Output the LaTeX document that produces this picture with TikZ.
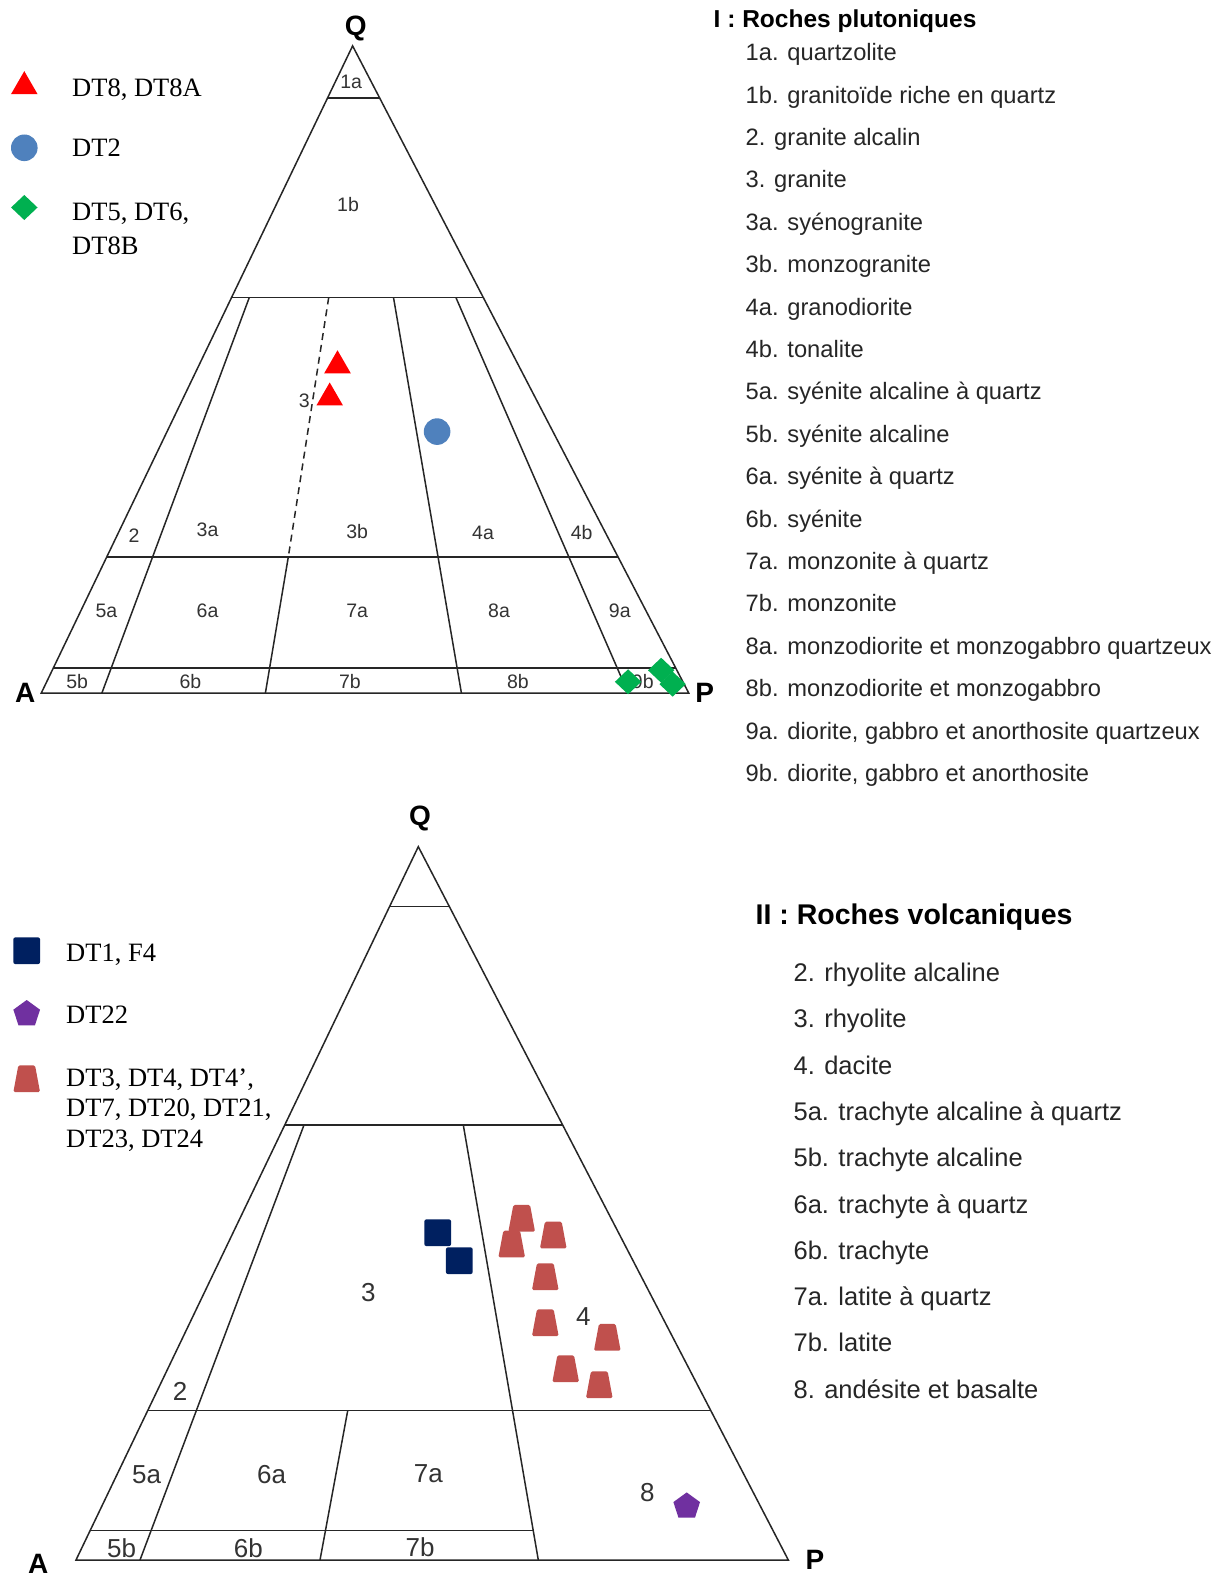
\documentclass[tikz,border=0pt]{standalone}
\usepackage{fontspec}
\setmainfont{Liberation Sans}
\newfontfamily\legendfont{Liberation Serif}
\usetikzlibrary{shapes.geometric}

\definecolor{mkred}{HTML}{FF0000}
\definecolor{mkblue}{HTML}{4F81BD}
\definecolor{mkgreen}{HTML}{00B050}
\definecolor{mknavy}{HTML}{002060}
\definecolor{mkpurple}{HTML}{7030A0}
\definecolor{mkbrick}{HTML}{C0504D}
\definecolor{txtgray}{HTML}{333333}

\tikzset{
  field/.style={line width=1.5pt, black!85},
  lab/.style={text=txtgray, inner sep=0pt, font=\fontsize{19.5}{20}\selectfont},
  biglab/.style={text=txtgray, inner sep=0pt, font=\fontsize{26}{27}\selectfont},
  apex/.style={inner sep=0pt, font=\bfseries\fontsize{28}{28}\selectfont},
  item/.style={anchor=base west, inner sep=0pt, text=black!85, font=\fontsize{23.7}{24}\selectfont},
  vitem/.style={item, font=\fontsize{25.5}{26}\selectfont},
  legtext/.style={anchor=base west, inner sep=0pt, font=\legendfont\fontsize{26.5}{30}\selectfont},
  tri/.style={regular polygon, regular polygon sides=3, minimum size=30.7pt, inner sep=0pt, fill=mkred},
  dot/.style={circle, minimum size=26.6pt, inner sep=0pt, fill=mkblue},
  rhomb/.style={diamond, minimum width=26.6pt, minimum height=25.2pt, inner sep=0pt, fill=mkgreen},
  sqr/.style={rectangle, minimum size=26.7pt, inner sep=0pt, rounded corners=2pt, fill=mknavy},
  penta/.style={regular polygon, regular polygon sides=5, minimum size=28pt, inner sep=0pt, fill=mkpurple},
  trapmark/.pic={\fill[mkbrick, rounded corners=1.5pt] (-13.35,13.35) -- (-8.35,-13.35) -- (8.35,-13.35) -- (13.35,13.35) -- cycle;}
}

\begin{document}
\begin{tikzpicture}[x=1pt,y=-1pt]
	\path[fill=white,use as bounding box] (0,0) rectangle (1228,1578);

	% I : plutonic QAP triangle
	\coordinate (Q1) at (352.6,45.9);
	\coordinate (A1) at (41.3,693);
	\coordinate (P1) at (688.7,693);
	\draw[field] (A1) -- (Q1) -- (P1) -- cycle;
	\draw[field] (327.7,97.8) -- (379.5,97.8);
	\draw[field] (231.6,297.5) -- (483.3,297.5);
	\draw[field] (106.7,557) -- (618.1,557);
	\draw[field] (53.3,668) -- (675.7,668);
	\draw[field] (249.3,297.5) -- (101.9,693);
	\draw[field,dashed,dash pattern=on 7pt off 5pt] (328.7,297.5) -- (288.3,557);
	\draw[field] (288.3,557) -- (265.4,693);
	\draw[field] (393.5,297.5) -- (461.4,693);
	\draw[field] (455.9,297.5) -- (628.1,693);

	\node[apex] (q1) at (355.8,28.5) {Q};
	\node[apex] (a1) at (25.3,692.4) {A};
	\node[apex] (p1) at (704.8,692.4) {P};

	\node[lab] at (351.2,81.7) {1a};
	\node[lab] at (348,205) {1b};
	\node[lab] at (304.4,400.8) {3};
	\node[lab] at (134,536) {2};
	\node[lab] at (207.5,530) {3a};
	\node[lab] at (357.2,531.7) {3b};
	\node[lab] at (483,532.6) {4a};
	\node[lab] at (581.7,532.6) {4b};
	\node[lab] at (106.5,610.6) {5a};
	\node[lab] at (207.5,610.6) {6a};
	\node[lab] at (357.2,610.6) {7a};
	\node[lab] at (499,610.6) {8a};
	\node[lab] at (619.8,610.6) {9a};
	\node[lab] at (77.1,681.8) {5b};
	\node[lab] at (190.5,681.8) {6b};
	\node[lab] at (349.9,681.8) {7b};
	\node[lab] at (517.9,681.8) {8b};
	\node[lab] at (642.8,681.8) {9b};

	% samples, plutonic
	\node[tri] (dt8) at (337.5,365.6) {};
	\node[tri] (dt8a) at (329.7,397.8) {};
	\node[dot] (dt2) at (437.1,431.6) {};
	\node[rhomb] (dt5) at (628.1,681.8) {};
	\node[rhomb] (dt6) at (661.2,670.3) {};
	\node[rhomb] (dt8b) at (672.6,684.1) {};

	\node[tri] (leg1) at (24.3,86.5) {};
	\node[dot] (leg2) at (24.3,147.8) {};
	\node[rhomb] (leg3) at (24.3,207.5) {};
	\node[legtext] (legt1) at (72,96.4) {DT8, DT8A};
	\node[legtext] (legt2) at (72,157) {DT2};
	\node[legtext] (legt3) at (72,220.4) {DT5, DT6,};
	\node[legtext] (legt3b) at (72,254.8) {DT8B};

	\node[anchor=base west, inner sep=0pt, font=\bfseries\fontsize{24.5}{25}\selectfont] (titre1) at (713.5,27.3) {I : Roches plutoniques};
	\foreach \txt [count=\i from 0] in {1a. quartzolite, 1b. granitoïde riche en quartz, 2. granite alcalin, 3. granite, 3a. syénogranite, 3b. monzogranite, 4a. granodiorite, 4b. tonalite, 5a. syénite alcaline à quartz, 5b. syénite alcaline, 6a. syénite à quartz, 6b. syénite, 7a. monzonite à quartz, 7b. monzonite, 8a. monzodiorite et monzogabbro quartzeux, 8b. monzodiorite et monzogabbro, {9a. diorite, gabbro et anorthosite quartzeux}, {9b. diorite, gabbro et anorthosite}}
		\node[item] (pl\i) at (745.5,60.7+42.4*\i) {\txt};

	% II : volcanic QAP triangle
	\coordinate (Q2) at (418.3,846.7);
	\coordinate (A2) at (76,1560);
	\coordinate (P2) at (788.3,1560);
	\draw[field] (A2) -- (Q2) -- (P2) -- cycle;
	\draw[field] (389.5,906.7) -- (449.4,906.7);
	\draw[field] (284.7,1125) -- (562.7,1125);
	\draw[field] (147.6,1410.7) -- (710.9,1410.7);
	\draw[field] (90.1,1530.7) -- (533,1530.7);
	\draw[field] (304,1125) -- (140,1560);
	\draw[field] (347.7,1410.7) -- (320,1560);
	\draw[field] (463.3,1125) -- (538.3,1560);

	\node[apex] (q2) at (420,818.3) {Q};
	\node[apex] (a2) at (38.3,1564) {A};
	\node[apex] (p2) at (815,1560) {P};

	\node[biglab] at (368.3,1292.7) {3};
	\node[biglab] at (180,1391.7) {2};
	\node[biglab] at (583.3,1316.7) {4};
	\node[biglab] at (146.7,1475) {5a};
	\node[biglab] at (271.7,1475) {6a};
	\node[biglab] at (428.3,1473.3) {7a};
	\node[biglab] at (647.3,1492.7) {8};
	\node[biglab] at (121.7,1548.3) {5b};
	\node[biglab] at (248.3,1548.3) {6b};
	\node[biglab] at (420,1546.7) {7b};

	% samples, volcanic
	\node[sqr] (dt1) at (437.7,1232.7) {};
	\node[sqr] (f4) at (459.3,1260.7) {};
	\foreach \px/\py [count=\k] in {521.7/1218.3, 511.7/1244, 553.3/1235, 545.3/1276.7, 545.3/1322.7, 607.3/1337.3, 565.7/1368.7, 599.3/1384.7}{
		\coordinate (dac\k) at (\px,\py);
		\pic at (dac\k) {trapmark};
	}
	\node[penta] (dt22) at (686.7,1506.4) {};

	\node[sqr] (leg4) at (26.7,950.7) {};
	\node[penta] (leg5) at (26.7,1014) {};
	\coordinate (leg6) at (26.7,1078.7);
	\pic at (leg6) {trapmark};
	\node[legtext] (legt4) at (66,961.7) {DT1, F4};
	\node[legtext] (legt5) at (66,1023.3) {DT22};
	\node[legtext] (legt6) at (66,1086) {DT3, DT4, DT4’,};
	\node[legtext] (legt6b) at (66,1116.7) {DT7, DT20, DT21,};
	\node[legtext] (legt6c) at (66,1147.3) {DT23, DT24};

	\node[anchor=base west, inner sep=0pt, font=\bfseries\fontsize{28.5}{29}\selectfont] (titre2) at (755.5,924.2) {II : Roches volcaniques};
	\foreach \txt [count=\i from 0] in {2. rhyolite alcaline, 3. rhyolite, 4. dacite, 5a. trachyte alcaline à quartz, 5b. trachyte alcaline, 6a. trachyte à quartz, 6b. trachyte, 7a. latite à quartz, 7b. latite, 8. andésite et basalte}
		\node[vitem] (vo\i) at (793.4,981.5+46.3*\i) {\txt};
\end{tikzpicture}
\end{document}
